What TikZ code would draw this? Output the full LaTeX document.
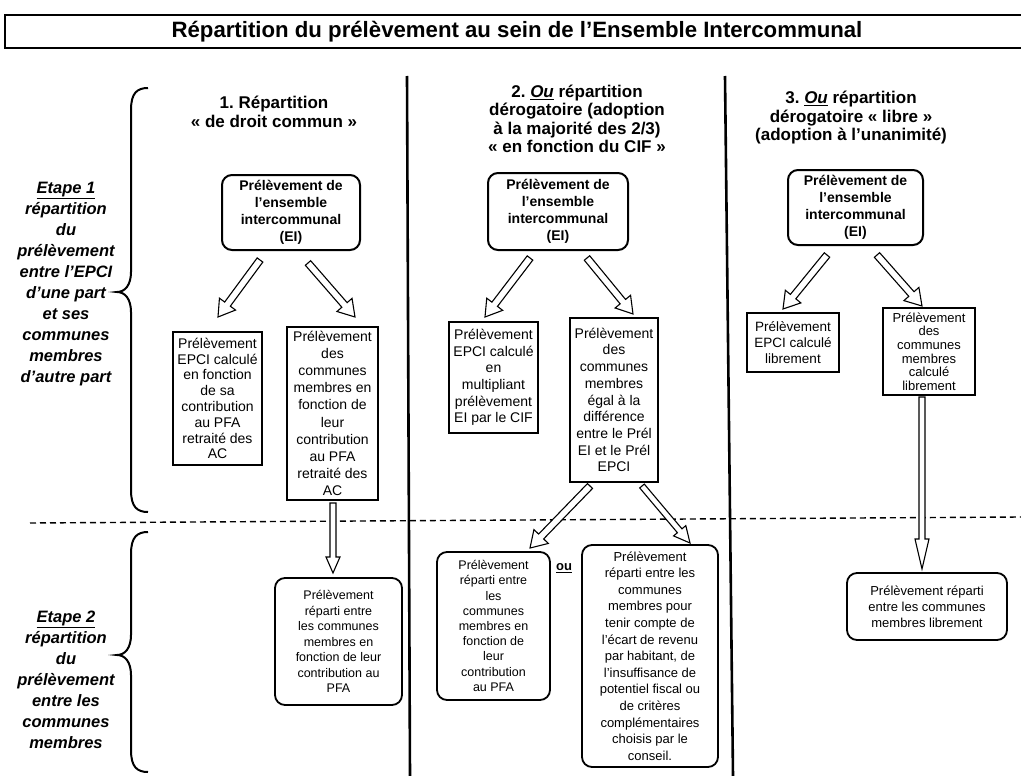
\documentclass[tikz,border=0pt]{standalone}
\usepackage{fontspec}
\setmainfont{Liberation Sans}
\usetikzlibrary{calc}
\frenchspacing
\tikzset{
 sqbox/.style={draw, line width=2.2pt, align=center, inner sep=1pt, font=\fontsize{14}{16.7}\selectfont},
 rbox/.style={draw, line width=1.8pt, rounded corners=10pt, align=center, inner sep=2pt, font=\fontsize{13}{16}\selectfont},
 eibox/.style={draw, line width=2pt, rounded corners=10pt, align=center, inner sep=1pt, font=\bfseries\fontsize{14}{17}\selectfont},
 heading/.style={align=center, font=\bfseries\fontsize{17}{18.5}\selectfont},
 etape/.style={align=center, font=\bfseries\itshape\fontsize{16.5}{21}\selectfont},
 hollow/.style={draw, fill=white, line width=1.1pt, line join=miter},
 sep/.style={line width=2.6pt},
 stage/.style={dash pattern=on 6pt off 4pt, line width=1.4pt},
 bracket/.style={line width=2pt},
}
\newcommand{\hollowarrow}[5]{%
 \draw[hollow] ($(#1)!#3!90:(#2)$) -- ($(#2)!#5!(#1)!#3!-90:(#1)$) -- ($(#2)!#5!(#1)!#4!-90:(#1)$) -- (#2) -- ($(#2)!#5!(#1)!#4!90:(#1)$) -- ($(#2)!#5!(#1)!#3!90:(#1)$) -- ($(#1)!#3!-90:(#2)$) -- cycle;
}
\newcommand{\leftbrace}[3]{%
 \draw[bracket] (148,#1) .. controls (137,#1) and (131,#1+5) .. (131,#1+22) -- (131,#2-20) .. controls (131,#2-7) and (125,#2) .. (117,#2) .. controls (125,#2) and (131,#2+7) .. (131,#2+20) -- (131,#3-22) .. controls (131,#3-5) and (137,#3) .. (148,#3);
}
\begin{document}
\begin{tikzpicture}[x=1pt,y=-1pt]
\useasboundingbox (0,0) rectangle (1021,776);
\fill[white] (0,0) rectangle (1021,776);
% title
\draw[line width=1.4pt] (1021,15) -- (5,15) -- (5,48) -- (1021,48);
\node[font=\bfseries\fontsize{22.2}{24}\selectfont] (title) at (517,32) {Répartition du prélèvement au sein de l’Ensemble Intercommunal};
% separators
\draw[sep] (407,76) -- (410,776);
\draw[sep] (725,76) -- (733,776);
\draw[stage] (30,523) -- (1021,517);
% braces and stage labels
\leftbrace{88}{292}{512}
\leftbrace{532}{655}{772}
\node[etape] (et1) at (66,284) {\underline{Etape 1}\\répartition\\du\\prélèvement\\entre l’EPCI\\d’une part\\et ses\\communes\\membres\\d’autre part};
\node[etape] (et2) at (66,680) {\underline{Etape 2}\\répartition\\du\\prélèvement\\entre les\\communes\\membres};
% headings
\node[heading] (h1) at (274,112) {1. Répartition\\« de droit commun »};
\node[heading] (h2) at (577,119) {2. \underline{\textit{Ou}} répartition\\dérogatoire (adoption\\à la majorité des 2/3)\\« en fonction du CIF »};
\node[heading] (h3) at (851,118) {3. \underline{\textit{Ou}} répartition\\dérogatoire « libre »\\(adoption à l’unanimité)};
% column 1
\node[eibox, minimum width=138pt, minimum height=75pt] (ei1) at (291,212.5) {Prélèvement de\\l’ensemble\\intercommunal\\(EI)};
\node[sqbox, minimum width=89pt, minimum height=133pt, font=\fontsize{14}{15.8}\selectfont] (a1) at (217.5,398.5) {Prélèvement\\EPCI calculé\\en fonction\\de sa\\contribution\\au PFA\\retraité des\\AC};
\node[sqbox, minimum width=91pt, minimum height=173pt, font=\fontsize{14}{17.2}\selectfont] (b1) at (332.5,413.5) {Prélèvement\\des\\communes\\membres en\\fonction de\\leur\\contribution\\au PFA\\retraité des\\AC};
\node[rbox, minimum width=127pt, minimum height=127pt, font=\fontsize{12.5}{15.5}\selectfont] (c1) at (338.5,641.5) {Prélèvement\\réparti entre\\les communes\\membres en\\fonction de leur\\contribution au\\PFA};
% column 2
\node[eibox, minimum width=140pt, minimum height=77pt] (ei2) at (558,211.5) {Prélèvement de\\l’ensemble\\intercommunal\\(EI)};
\node[sqbox, minimum width=89pt, minimum height=111pt] (a2) at (493.5,377.5) {Prélèvement\\EPCI calculé\\en\\multipliant\\prélèvement\\EI par le CIF};
\node[sqbox, minimum width=88pt, minimum height=164pt] (b2) at (614,400) {Prélèvement\\des\\communes\\membres\\égal à la\\différence\\entre le Prél\\EI et le Prél\\EPCI};
\node[rbox, minimum width=113pt, minimum height=148pt, font=\fontsize{12.5}{15.2}\selectfont] (c2) at (493.5,626) {Prélèvement\\réparti entre\\les\\communes\\membres en\\fonction de\\leur\\contribution\\au PFA};
\node[rbox, minimum width=136pt, minimum height=222pt, font=\fontsize{13}{16.6}\selectfont] (d2) at (650,656) {Prélèvement\\réparti entre les\\communes\\membres pour\\tenir compte de\\l’écart de revenu\\par habitant, de\\l’insuffisance de\\potentiel fiscal ou\\de critères\\complémentaires\\choisis par le\\conseil.};
\node[font=\bfseries\fontsize{13}{15}\selectfont] (ou) at (564,568) {\underline{ou}};
% column 3
\node[eibox, minimum width=135pt, minimum height=75pt] (ei3) at (855.5,207.5) {Prélèvement de\\l’ensemble\\intercommunal\\(EI)};
\node[sqbox, minimum width=92pt, minimum height=59pt, font=\fontsize{13.5}{16}\selectfont] (a3) at (793,342.5) {Prélèvement\\EPCI calculé\\librement};
\node[sqbox, minimum width=92pt, minimum height=87pt, font=\fontsize{13}{13.6}\selectfont] (b3) at (929,351.5) {Prélèvement\\des\\communes\\membres\\calculé\\librement};
\node[rbox, minimum width=160pt, minimum height=67pt] (c3) at (927,606.5) {Prélèvement réparti\\entre les communes\\membres librement};
% arrow end points
\coordinate (p1s) at (260,260); \coordinate (p1e) at (218,317);
\coordinate (q1s) at (308,263); \coordinate (q1e) at (355,317);
\coordinate (r1s) at (333,503); \coordinate (r1e) at (333,573);
\coordinate (p2s) at (530,258); \coordinate (p2e) at (485,317);
\coordinate (q2s) at (587,258); \coordinate (q2e) at (633,314);
\coordinate (r2s) at (590,486); \coordinate (r2e) at (530,548);
\coordinate (s2s) at (642,486); \coordinate (s2e) at (690,543);
\coordinate (p3s) at (827,255); \coordinate (p3e) at (783,309);
\coordinate (q3s) at (877,255); \coordinate (q3e) at (922,306);
\coordinate (r3s) at (922,397); \coordinate (r3e) at (922,569);
\hollowarrow{p1s}{p1e}{3.5pt}{10pt}{16pt}
\hollowarrow{q1s}{q1e}{3.5pt}{10pt}{16pt}
\hollowarrow{r1s}{r1e}{3pt}{7pt}{16pt}
\hollowarrow{p2s}{p2e}{3.5pt}{10pt}{16pt}
\hollowarrow{q2s}{q2e}{3.5pt}{10pt}{16pt}
\hollowarrow{r2s}{r2e}{3.5pt}{10pt}{16pt}
\hollowarrow{s2s}{s2e}{3pt}{8pt}{16pt}
\hollowarrow{p3s}{p3e}{3.5pt}{10pt}{16pt}
\hollowarrow{q3s}{q3e}{3.5pt}{10pt}{16pt}
\hollowarrow{r3s}{r3e}{3pt}{7pt}{30pt}
\end{tikzpicture}
\end{document}
